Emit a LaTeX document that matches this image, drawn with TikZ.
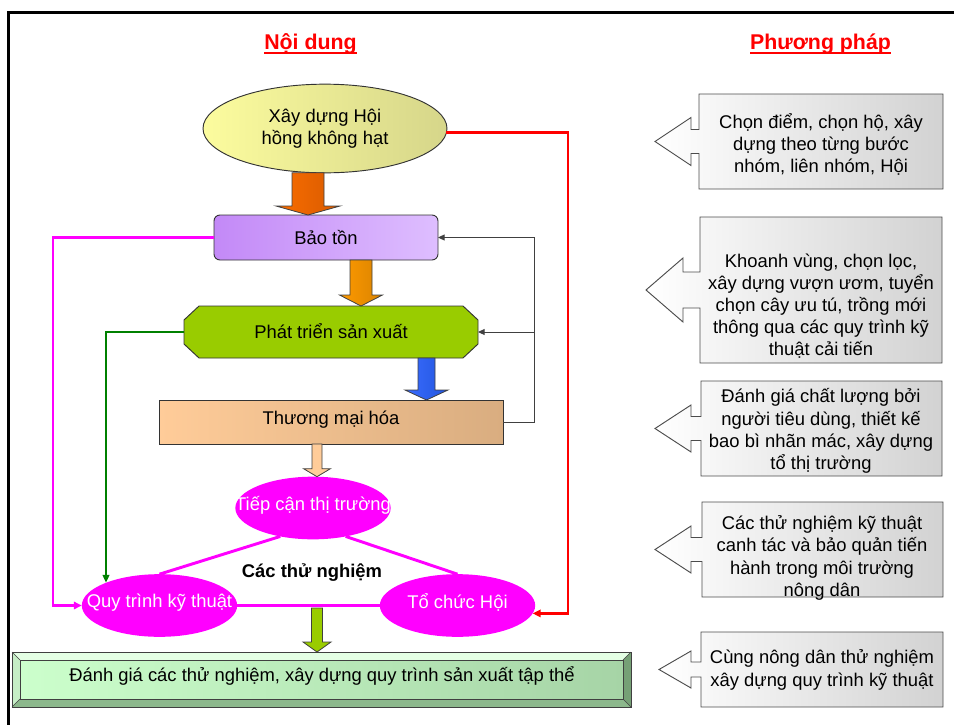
\documentclass[tikz,border=0pt]{standalone}
\usepackage{fontspec}
\setmainfont{Liberation Sans}
\usetikzlibrary{shapes.geometric, arrows.meta, calc}
\pgfdeclarelayer{background}
\pgfsetlayers{background,main}

\definecolor{yelL}{HTML}{FCFC9E}
\definecolor{yelR}{HTML}{D6D68A}
\definecolor{purL}{HTML}{C389F7}
\definecolor{purR}{HTML}{DEBEFF}
\definecolor{lime}{HTML}{99CC00}
\definecolor{peaL}{HTML}{FFCC99}
\definecolor{peaR}{HTML}{D9AD80}
\definecolor{mag}{HTML}{FF00FF}
\definecolor{orA}{HTML}{FA6E00}
\definecolor{orB}{HTML}{D85A00}
\definecolor{orC}{HTML}{FF9A00}
\definecolor{orD}{HTML}{D98300}
\definecolor{bluA}{HTML}{3A6CFF}
\definecolor{bluB}{HTML}{2255DD}
\definecolor{grL}{HTML}{CCFFCC}
\definecolor{grR}{HTML}{A6D4A6}
\definecolor{grTop}{HTML}{E4FFE4}
\definecolor{grLeft}{HTML}{C6EEC6}
\definecolor{grRight}{HTML}{76A076}
\definecolor{grBot}{HTML}{8CB88C}
\definecolor{cgray}{HTML}{D2D2D2}
\definecolor{dkgreen}{HTML}{008000}

\tikzset{
  every node/.style={inner sep=0pt, outer sep=0pt},
  txt/.style={font=\fontsize{13.8}{16.6}\selectfont, align=center},
  ttl/.style={font=\fontsize{16}{19}\selectfont\bfseries, text=red},
  outline/.style={draw=black!80, line width=0.7pt},
  blk/.style={draw=black!75, line width=0.6pt},
  magell/.style={ellipse, fill=mag, minimum width=116.5pt, minimum height=47pt},
  fbline/.style={draw=black!75, line width=0.75pt, -{Triangle[length=5pt,width=4.5pt]}},
  pinkline/.style={draw=mag, line width=2pt, -{Triangle[length=6pt,width=5.5pt]}},
  greenline/.style={draw=dkgreen, line width=1.6pt, -{Triangle[length=6pt,width=5pt]}},
  redline/.style={draw=red, line width=2pt, -{Triangle[length=6pt,width=5.5pt]}},
  triline/.style={draw=mag, line width=2.2pt},
  cline/.style={draw=black!70, line width=0.7pt, left color=white, right color=cgray},
}

% vertical block arrow: start point, anchor giving the tip height,
% shaft half width, head half width, head length, style
\newcommand\blockarr[6]{%
  \coordinate (ba-s) at #1;
  \coordinate (ba-e) at (ba-s |- #2);
  \draw[#6] ($(ba-s)+(-#3,0)$) -- ($(ba-s)+(#3,0)$) -- ($(ba-e)+(#3,-#5)$)
    -- ($(ba-e)+(#4,-#5)$) -- (ba-e) -- ($(ba-e)+(-#4,-#5)$)
    -- ($(ba-e)+(-#3,-#5)$) -- cycle;}

% box with a left-pointing arrow: node, tip distance, neck distance,
% head half height, shaft half height
\newcommand\callarrow[5]{%
  \draw[cline] (#1.north west) -- (#1.north east) -- (#1.south east) -- (#1.south west)
    -- ($(#1.west)+(0,#5)$) -- ($(#1.west)+(-#3,#5)$) -- ($(#1.west)+(-#3,#4)$)
    -- ($(#1.west)+(-#2,0)$) -- ($(#1.west)+(-#3,-#4)$) -- ($(#1.west)+(-#3,-#5)$)
    -- ($(#1.west)+(0,-#5)$) -- cycle;}

\begin{document}
\begin{tikzpicture}[x=0.75pt, y=-0.75pt]
\useasboundingbox (0,0) rectangle (954,725);
\draw[line width=2.1pt] (8.5,12.5) rectangle (980,760);

% headings
\node[ttl, anchor=base] (tnd) at (310.5,49.5) {Nội dung};
\draw[red, line width=1.9pt] ([yshift=-2.7pt]tnd.base west) -- ([yshift=-2.7pt]tnd.base east);
\node[ttl, anchor=base] (tpp) at (820.5,49.5) {Phương pháp};
\draw[red, line width=1.9pt] ([yshift=-2.7pt]tpp.base west) -- ([yshift=-2.7pt]tpp.base east);

% main column
\node[ellipse, outline, left color=yelL, right color=yelR, minimum width=183pt,
      minimum height=66.5pt, txt] (hoi) at (325,128.5) {Xây dựng Hội\\hồng không hạt};
\node[rectangle, rounded corners=4.5pt, outline, left color=purL, right color=purR,
      minimum width=168pt, minimum height=33.75pt, txt] (baoton) at (326,237.5) {Bảo tồn};
\node[txt, minimum width=220.5pt, minimum height=39pt] (phattrien) at (331,332) {};
\node[txt] (phattrien-t) at (331,331) {Phát triển sản xuất};
\node[rectangle, outline, left color=peaL, right color=peaR, minimum width=258pt,
      minimum height=33pt] (thuongmai) at (331,422) {};
\node[txt] (thuongmai-t) at (331,419.5) {Thương mại hóa};

\begin{pgfonlayer}{background}
\draw[outline, fill=lime]
  ($(phattrien.north west)+(15,0)$) -- ($(phattrien.north east)+(-15,0)$)
  -- ($(phattrien.north east)+(0,14)$) -- ($(phattrien.south east)+(0,-14)$)
  -- ($(phattrien.south east)+(-15,0)$) -- ($(phattrien.south west)+(15,0)$)
  -- ($(phattrien.south west)+(0,-14)$) -- ($(phattrien.north west)+(0,14)$) -- cycle;
\end{pgfonlayer}

% trials triangle
\node[magell] (tiepcan) at (313,508) {};
\node[magell] (quytrinh) at (159.5,605.5) {};
\node[magell] (tochuc) at (457.5,605.5) {};
\draw[triline] (tiepcan.221) -- (quytrinh.north);
\draw[triline] (tiepcan.-41) -- (tochuc.north);
\draw[triline] (quytrinh.east) -- (tochuc.west);
\node[txt, text=white] (tiepcan-t) at ($(tiepcan)+(0,-3)$) {Tiếp cận thị trường};
\node[txt, text=white] (quytrinh-t) at ($(quytrinh)+(0,-3)$) {Quy trình kỹ thuật};
\node[txt, text=white] (tochuc-t) at ($(tochuc)+(0,-3)$) {Tổ chức Hội};
\node[txt, font=\fontsize{13.8}{16.6}\selectfont\bfseries] (thunghiem) at (312,573) {Các thử nghiệm};

% bottom bevelled box
\node[txt, minimum width=464.25pt, minimum height=41.25pt] (danhgia) at (321.5,679.5) {};
\node[txt] (danhgia-t) at (322,676) {Đánh giá các thử nghiệm, xây dựng quy trình sản xuất tập thể};
\begin{pgfonlayer}{background}
\fill[grTop] (danhgia.north west) -- (danhgia.north east) -- ($(danhgia.north east)+(-8,8)$) -- ($(danhgia.north west)+(8,8)$) -- cycle;
\fill[grLeft] (danhgia.north west) -- ($(danhgia.north west)+(8,8)$) -- ($(danhgia.south west)+(8,-8)$) -- (danhgia.south west) -- cycle;
\fill[grRight] (danhgia.north east) -- (danhgia.south east) -- ($(danhgia.south east)+(-8,-8)$) -- ($(danhgia.north east)+(-8,8)$) -- cycle;
\fill[grBot] (danhgia.south west) -- (danhgia.south east) -- ($(danhgia.south east)+(-8,-8)$) -- ($(danhgia.south west)+(8,-8)$) -- cycle;
\draw[blk, left color=grL, right color=grR] ($(danhgia.north west)+(8,8)$) rectangle ($(danhgia.south east)+(-8,-8)$);
\draw[blk] (danhgia.north west) rectangle (danhgia.south east);
\draw[blk, line width=0.4pt] (danhgia.north west) -- ($(danhgia.north west)+(8,8)$)
  (danhgia.north east) -- ($(danhgia.north east)+(-8,8)$)
  (danhgia.south west) -- ($(danhgia.south west)+(8,-8)$)
  (danhgia.south east) -- ($(danhgia.south east)+(-8,-8)$);
\end{pgfonlayer}

% block arrows down the column
\blockarr{($(hoi.south)+(-17,0)$)}{baoton.north}{16}{32}{9}{blk, left color=orA, right color=orB}
\blockarr{($(baoton.south)+(35,0)$)}{phattrien.north}{11}{21.5}{11}{blk, left color=orC, right color=orD}
\blockarr{($(phattrien.south)+(95.5,0)$)}{thuongmai.north}{8.5}{21.5}{10}{blk, left color=bluA, right color=bluB}
\blockarr{($(thuongmai.south)+(-14,0)$)}{tiepcan.north}{5}{13.5}{8}{blk, fill=peaL}
\blockarr{($(danhgia.north)+(-4.5,-44)$)}{danhgia.north}{5.5}{14}{10}{blk, fill=lime}

% feedback and side connectors
\coordinate (fb) at (534,422);
\draw[fbline] (thuongmai.east) -- (fb) |- (baoton.east);
\draw[fbline] (fb |- phattrien.east) -- (phattrien.east);
\coordinate (pk) at (53,237.5);
\draw[pinkline] (baoton.west) -- (pk) |- (quytrinh.west);
\draw[greenline] (phattrien.west) -| (quytrinh.157.7);
\coordinate (rc) at (568,133);
\draw[redline] (hoi.-2) -| (rc) |- (tochuc.-6);

% method callouts
\node[minimum width=183pt, minimum height=71.25pt] (m1) at (821,141.5) {};
\node[minimum width=181.5pt, minimum height=109.5pt] (m2) at (821,290) {};
\node[minimum width=180.75pt, minimum height=71.25pt] (m3) at (821.5,428.5) {};
\node[minimum width=180.75pt, minimum height=71.25pt] (m4) at (822.5,549.5) {};
\node[minimum width=181.5pt, minimum height=56.25pt] (m5) at (822,669.5) {};
\begin{pgfonlayer}{background}
\callarrow{m1}{44}{8}{24}{12}
\callarrow{m2}{54}{17}{32}{18}
\callarrow{m3}{46}{10}{23.5}{12}
\callarrow{m4}{47}{11}{23.5}{12}
\callarrow{m5}{42}{10}{18.5}{7.5}
\end{pgfonlayer}
\node[txt] (m1-t) at (821,144.5) {Chọn điểm, chọn hộ, xây\\dựng theo từng bước\\nhóm, liên nhóm, Hội};
\node[txt] (m2-t) at (821,306) {Khoanh vùng, chọn lọc,\\xây dựng vượn ươm, tuyển\\chọn cây ưu tú, trồng mới\\thông qua các quy trình kỹ\\thuật cải tiến};
\node[txt] (m3-t) at (821,431) {Đánh giá chất lượng bởi\\người tiêu dùng, thiết kế\\bao bì nhãn mác, xây dựng\\tổ thị trường};
\node[txt] (m4-t) at (822,558) {Các thử nghiệm kỹ thuật\\canh tác và bảo quản tiến\\hành trong môi trường\\nông dân};
\node[txt] (m5-t) at (822,670) {Cùng nông dân thử nghiệm\\xây dựng quy trình kỹ thuật};
\end{tikzpicture}
\end{document}
